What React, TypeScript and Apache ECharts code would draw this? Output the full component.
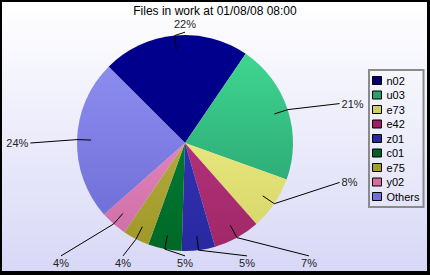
import React, { useEffect, useRef } from "react";
import * as echarts from "echarts";

// Share of files in work per site, in percent
const categories = ["n02", "u03", "e73", "e42", "z01", "c01", "e75", "y02", "Others"];
const shares = [22, 21, 8, 7, 5, 5, 4, 4, 24];

// Slice fills: lighter tone at the top, base tone at the bottom
const sliceTop = ["#00008e", "#3fd690", "#e6e67c", "#b2307a", "#3232b2", "#007a32", "#b2aa3a", "#e282ba", "#8c8cf0"];
const sliceBottom = ["#000088", "#2ead78", "#d8d86c", "#a02868", "#2828a0", "#006828", "#a09828", "#d070a8", "#7070d8"];
// Legend swatches
const legendColors = ["#000070", "#2e9e6e", "#d0d062", "#a01e62", "#28289e", "#00602a", "#a0a024", "#d86c9c", "#7070d8"];

const W = 430;
const H = 275;
const CX = 185;
const CY = 143;
const R = 108;
const START_ANGLE = 135;

type Placement = { x: number; y: number; align: string; points: number[][] };

// Guide-line label layout: labels sit on a frame around the pie, spread evenly per side.
// Guide lines start inside the slice, bend at the rim and run to the label.
function buildPlacements(): Placement[] {
  const total = shares.reduce((a, b) => a + b, 0);
  let acc = 90 - START_ANGLE; // clockwise from 12 o'clock
  const mids = shares.map((v) => {
    const m = acc + (v / total) * 180;
    acc += (v / total) * 360;
    return ((m % 360) + 360) % 360;
  });
  const sideOf = (a: number) =>
    a >= 315 || a < 45 ? "top" : a < 135 ? "right" : a < 225 ? "bottom" : "left";
  const groups: Record<string, number[]> = { top: [], right: [], bottom: [], left: [] };
  mids.forEach((a, i) => groups[sideOf(a)].push(i));
  groups.top.sort((i, j) => ((mids[i] + 180) % 360) - ((mids[j] + 180) % 360));
  groups.right.sort((i, j) => mids[i] - mids[j]);
  groups.bottom.sort((i, j) => mids[j] - mids[i]);
  groups.left.sort((i, j) => mids[j] - mids[i]);

  const out: Placement[] = [];
  const line = (i: number, anchor: number[]) => {
    const rad = (mids[i] * Math.PI) / 180;
    const s = Math.sin(rad);
    const c = Math.cos(rad);
    return [
      [CX + 0.87 * R * s, CY - 0.87 * R * c],
      [CX + R * s, CY - R * c],
      anchor,
    ];
  };
  Object.keys(groups).forEach((side) => {
    const list = groups[side];
    const n = list.length;
    list.forEach((i, k) => {
      const off = k - (n - 1) / 2;
      let x = 0;
      let y = 0;
      let align = "center";
      let anchor: number[] = [0, 0];
      if (side === "top") {
        x = CX + off * 0.574 * R;
        y = CY - 1.1 * R;
        anchor = [x, y + 8];
      } else if (side === "bottom") {
        x = CX + off * 0.574 * R;
        y = CY + 1.11 * R;
        anchor = [x, y - 7];
      } else if (side === "right") {
        x = CX + 1.45 * R;
        y = CY + off * 0.73 * R;
        align = "left";
        anchor = [x - 2, y];
      } else {
        x = CX - 1.45 * R;
        y = CY + off * 0.73 * R;
        align = "right";
        anchor = [x + 2, y];
      }
      out[i] = { x, y, align, points: line(i, anchor) };
    });
  });
  return out;
}

export default function App() {
  const ref = useRef<HTMLDivElement>(null);

  useEffect(() => {
    if (!ref.current) return;
    const chart = echarts.init(ref.current, null, { renderer: "svg" });
    const placements = buildPlacements();
    const font = "'Liberation Sans', Arial, sans-serif";

    const guideLines = placements.map((p) => ({
      type: "polyline",
      z: 100,
      silent: true,
      shape: { points: p.points },
      style: { stroke: "#000", lineWidth: 1, fill: null },
    }));

    chart.setOption({
      animation: false,
      backgroundColor: "#000",
      title: {
        text: "Files in work at 01/08/08 08:00",
        left: "center",
        top: 5,
        padding: 0,
        textStyle: { fontSize: 12, fontWeight: "normal", color: "#000", fontFamily: font },
      },
      graphic: [
        {
          type: "rect",
          z: -10,
          silent: true,
          shape: { x: 2, y: 2, width: W - 5, height: H - 6 },
          style: {
            fill: new echarts.graphic.LinearGradient(0, 0, 0, 1, [
              { offset: 0, color: "#ffffff" },
              { offset: 1, color: "#d8d8f7" },
            ]),
          },
        },
        ...guideLines,
      ],
      legend: {
        orient: "vertical",
        left: 369,
        top: 70,
        padding: [5, 4, 5, 3],
        itemWidth: 9,
        itemHeight: 8,
        itemGap: 3.5,
        selectedMode: false,
        borderColor: "#8a8a8a",
        borderWidth: 2,
        backgroundColor: "rgba(255,255,255,0.12)",
        textStyle: { fontSize: 11, color: "#000", fontFamily: font },
        data: categories.map((name, i) => ({
          name,
          icon: "rect",
          itemStyle: { color: legendColors[i], borderColor: "#000", borderWidth: 1 },
        })),
      },
      series: [
        {
          type: "pie",
          center: [CX, CY],
          radius: R,
          startAngle: START_ANGLE,
          clockwise: true,
          avoidLabelOverlap: false,
          emphasis: { disabled: true },
          data: categories.map((name, i) => ({
            name,
            value: shares[i],
            itemStyle: {
              color: new echarts.graphic.LinearGradient(0, 0, 0, 1, [
                { offset: 0, color: sliceTop[i] },
                { offset: 1, color: sliceBottom[i] },
              ]),
            },
          })),
          label: {
            show: true,
            position: "outside",
            formatter: (p: any) => Math.round(p.percent) + "%",
            fontSize: 11,
            color: "#222",
            fontFamily: font,
          },
          labelLine: { show: false },
          labelLayout: (params: any) => {
            const p = placements[params.dataIndex];
            return {
              x: p.x,
              y: p.y,
              align: p.align,
              verticalAlign: "middle",
            };
          },
        },
      ],
    });

    return () => chart.dispose();
  }, []);

  return (
    <div
      ref={ref}
      style={{ position: "absolute", left: 0, top: 0, width: W, height: H }}
    />
  );
}
